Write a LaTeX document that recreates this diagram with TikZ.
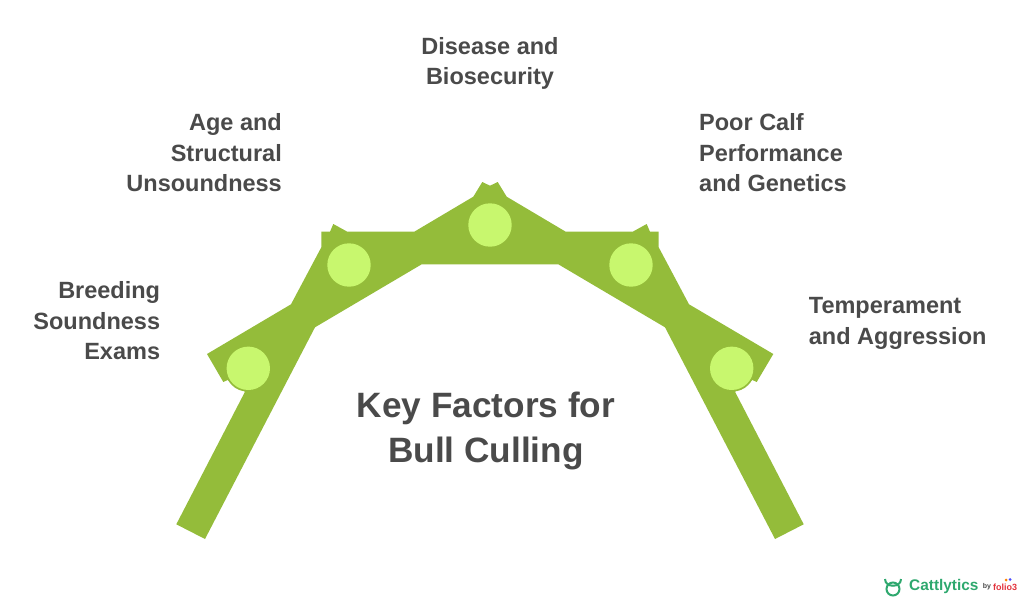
\documentclass[tikz,border=0pt]{standalone}
\usepackage{fontspec}
\setmainfont{Liberation Sans}
\usetikzlibrary{positioning}
\definecolor{barColor}{RGB}{148,188,58}
\definecolor{dotColor}{RGB}{200,247,110}
\definecolor{textColor}{RGB}{74,74,74}
\definecolor{logoColor}{RGB}{46,168,110}
\definecolor{folioColor}{RGB}{226,50,60}

\begin{document}
\begin{tikzpicture}[x=1pt,y=-1pt,textColor]
    \tikzstyle{dot} = [circle,fill=dotColor,inner sep=0pt,minimum size=43.4pt]
    \tikzstyle{lbl} = [inner sep=0pt,align=right,font=\fontsize{23.5}{30.5}\selectfont\bfseries]
    \tikzstyle{lblleft} = [lbl,align=left]
    \tikzstyle{title} = [inner sep=0pt,align=center,font=\fontsize{35.2}{45}\selectfont\bfseries]

    \useasboundingbox (0,0) rectangle (1024,604);

    % arch
    \fill [barColor] (176.3,524.3) -- (205,539) -- (315,327.3) -- (421.7,264.3)
      -- (558.3,264.3) -- (665,327.3) -- (775,539) -- (803.7,524.3) -- (735,391.7)
      -- (752.3,380) -- (756.7,382) -- (773.3,354) -- (689,304.3)
      -- (658.7,247.3) -- (658.7,231.7) -- (650,231.7) -- (646.7,224) -- (632.7,231.7)
      -- (565.7,231.7) -- (506.7,196.7) -- (497.7,182) -- (490,185.7) -- (482.3,182)
      -- (473.3,196.7) -- (414.3,231.7) -- (347.3,231.7) -- (333.3,224) -- (330,231.7)
      -- (321.3,231.7) -- (321.3,247.3) -- (291,304.3) -- (207,354) -- (223.3,382)
      -- (227.7,380) -- (245,391.7) -- cycle;
    \fill [barColor] (247.6,369.2) circle (22.4);
    \fill [barColor] (732.4,369.2) circle (22.4);

    \node [dot] (dotA) at (248.3,368.3) {};
    \node [dot] (dotB) at (349,265) {};
    \node [dot] (dotC) at (490,225) {};
    \node [dot] (dotD) at (631,265) {};
    \node [dot] (dotE) at (731.7,368.3) {};

    \node [lbl, above left=8pt and 88pt of dotA.center] (breeding) {Breeding\\Soundness\\Exams};
    \node [lbl, above left=73pt and 67pt of dotB.center] (age) {Age and\\Structural\\Unsoundness};
    \node [lbl, align=center, above=135pt of dotC.center] (disease) {Disease and\\Biosecurity};
    \node [lblleft, above right=73pt and 68pt of dotD.center] (calf) {Poor Calf\\Performance\\and Genetics};
    \node [lblleft, above right=19pt and 77pt of dotE.center] (temper) {Temperament\\and Aggression};

    \node [title] (keyfactors) at (486,431) {Key Factors for\\Bull Culling};

    % logo
    \node [inner sep=0pt,text=logoColor,font=\fontsize{15.4}{16}\selectfont\bfseries,anchor=west] (cattlytics) at (909,587) {Cattlytics};
    \node [inner sep=0pt,font=\fontsize{7}{8}\selectfont\bfseries,right=4pt of cattlytics] (by) {by};
    \node [inner sep=0pt,text=folioColor,font=\fontsize{9}{10}\selectfont\bfseries,right=1.5pt of by] (folio) {folio3};
    \fill [orange] (1006,580) circle (1.5);
    \fill [blue!70] (1010,579.5) circle (1.5);
    \draw [logoColor,line width=2pt] (893,589) circle (6.5);
    \draw [logoColor,line width=2pt] (885,579) .. controls (885,588) and (901,588) .. (901,579);
\end{tikzpicture}
\end{document}
